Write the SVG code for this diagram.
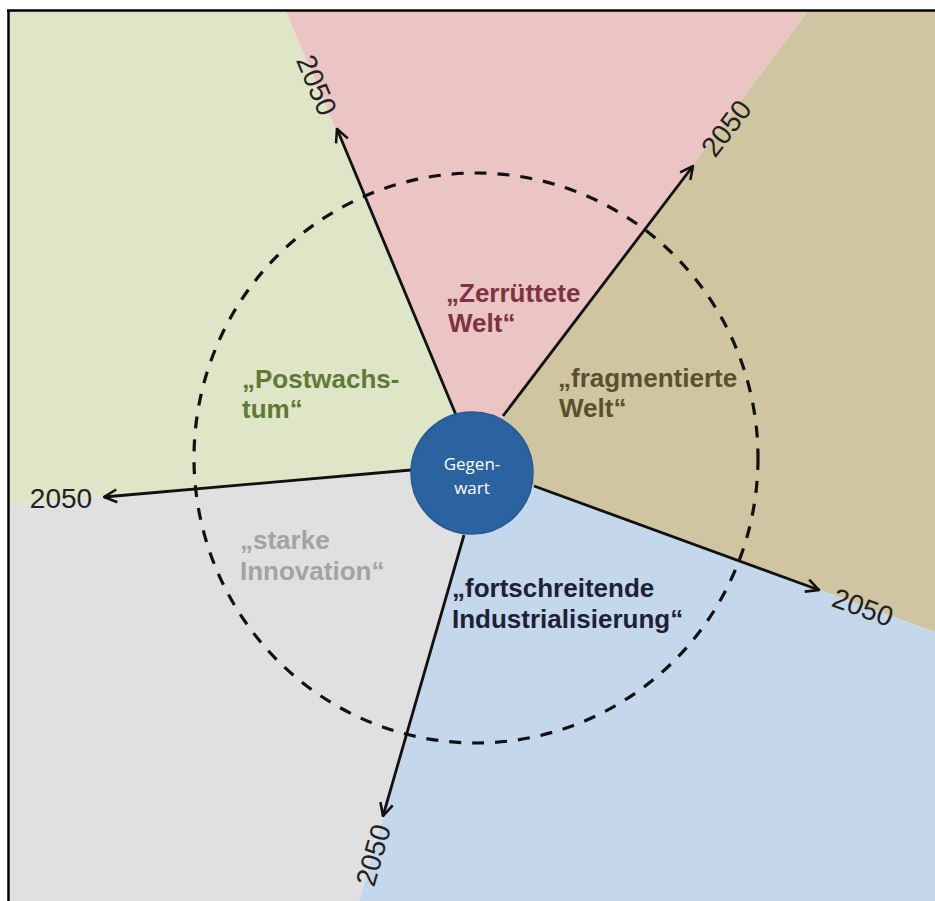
<svg xmlns="http://www.w3.org/2000/svg" width="935" height="901" viewBox="0 0 935 901">
<style>
.ray{stroke:#111;stroke-width:2.8;fill:none;marker-end:url(#ah)}
.yr{font-family:"Liberation Sans",Arial,sans-serif;font-size:28px;fill:#222;text-anchor:middle}
.lbl{font-family:"Liberation Sans",Arial,sans-serif;font-size:26px;font-weight:bold}
.ctr{font-family:"Open Sans","Liberation Sans",sans-serif;font-size:17px;fill:#fff;text-anchor:middle}
</style>
<defs>
<marker id="ah" viewBox="0 0 12 12" refX="11" refY="6" markerWidth="5.5" markerHeight="5.5" orient="auto" markerUnits="strokeWidth">
<path d="M1,1 L11,6 L1,11" fill="none" stroke="#111" stroke-width="2"/>
</marker>
</defs>
<rect width="935" height="901" fill="#fff"/>
<g id="sectors">
<polygon id="s-zerruettet" points="472,473 456,415 285,10 809,10 503,416" fill="#ebc4c4"/>
<polygon id="s-fragmentiert" points="472,473 503,416 809,10 935,10 935,632 534,486" fill="#cfc6a1"/>
<polygon id="s-industrie" points="472,473 534,486 935,632 935,901 359,901 464,535" fill="#c5d7eb"/>
<polygon id="s-innovation" points="472,473 464,535 359,901 10,901 10,505 411,470" fill="#e0e0e0"/>
<polygon id="s-postwachstum" points="472,473 411,470 10,505 10,10 285,10 456,415" fill="#dfe5c7"/>
</g>
<line x1="8.5" y1="10" x2="8.5" y2="901" stroke="#000" stroke-width="2.5"/>
<line x1="7" y1="10.5" x2="935" y2="10.5" stroke="#000" stroke-width="2.5"/>
<ellipse id="horizon" cx="476" cy="458" rx="282" ry="285" fill="none" stroke="#111" stroke-width="3.2" stroke-dasharray="12 11"/>
<g id="connectors">
<line class="ray" x1="456" y1="415" x2="337" y2="129"/>
<line class="ray" x1="503" y1="416" x2="693" y2="166"/>
<line class="ray" x1="411" y1="470" x2="104" y2="497"/>
<line class="ray" x1="534" y1="486" x2="819" y2="590"/>
<line class="ray" x1="464" y1="535" x2="383" y2="816"/>
</g>
<g id="year-labels">
<text class="yr" transform="translate(317,85) rotate(67.5)" x="0" y="10">2050</text>
<text class="yr" transform="translate(726,128) rotate(-52.7)" x="0" y="10">2050</text>
<text class="yr" x="61" y="508">2050</text>
<text class="yr" transform="translate(863,607) rotate(20)" x="0" y="10">2050</text>
<text class="yr" transform="translate(373,855) rotate(-74)" x="0" y="10">2050</text>
</g>
<g id="n-zerruettet">
<text class="lbl" fill="#7d3340"><tspan x="446" y="302">„Zerrüttete</tspan><tspan x="448" y="332">Welt“</tspan></text>
</g>
<g id="n-postwachstum">
<text class="lbl" fill="#5e7a34"><tspan x="242" y="388">„Postwachs-</tspan><tspan x="242" y="418">tum“</tspan></text>
</g>
<g id="n-fragmentiert">
<text class="lbl" fill="#57522e"><tspan x="558" y="387">„fragmentierte</tspan><tspan x="559" y="417">Welt“</tspan></text>
</g>
<g id="n-innovation">
<text class="lbl" fill="#a3a3a3"><tspan x="240" y="549">„starke</tspan><tspan x="240" y="580">Innovation“</tspan></text>
</g>
<g id="n-industrie">
<text class="lbl" fill="#1c2236"><tspan x="452" y="597">„fortschreitende</tspan><tspan x="452" y="628">Industrialisierung“</tspan></text>
</g>
<g id="n-gegenwart">
<circle cx="472" cy="473" r="61" fill="#2b62a0" stroke="#245893" stroke-width="1.5"/>
<text class="ctr"><tspan x="472" y="470">Gegen-</tspan><tspan x="472" y="494">wart</tspan></text>
</g>
</svg>
